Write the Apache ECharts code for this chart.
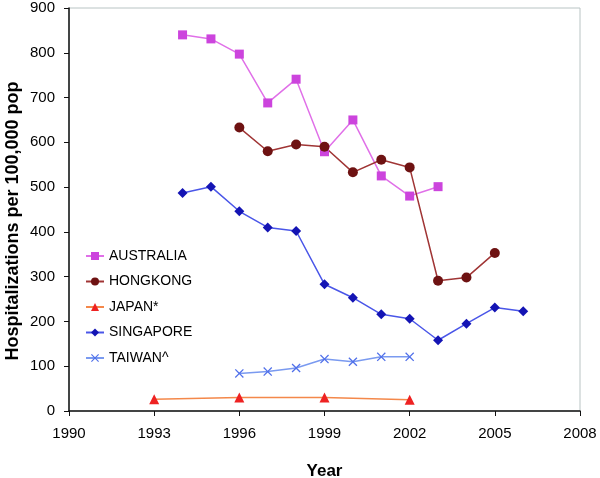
<!DOCTYPE html>
<html>
<head>
<meta charset="utf-8">
<script src="https://cdn.jsdelivr.net/npm/echarts@6/dist/echarts.min.js"></script>
<style>html,body{margin:0;padding:0;background:#fff}#c{width:600px;height:478px}</style>
</head>
<body>
<div id="c"></div>
<script>
var years = ['1990','1991','1992','1993','1994','1995','1996','1997','1998','1999','2000','2001','2002','2003','2004','2005','2006','2007','2008'];
var seriesNames = ['AUSTRALIA','HONGKONG','JAPAN*','SINGAPORE','TAIWAN^'];

var australiaYears = ['1994','1995','1996','1997','1998','1999','2000','2001','2002','2003'];
var australiaVals  = [840, 831, 797, 688, 741, 579, 650, 525, 480, 501];

var hongkongYears = ['1996','1997','1998','1999','2000','2001','2002','2003','2004','2005'];
var hongkongVals  = [633, 580, 595, 590, 533, 561, 544, 291, 298, 353];

var japanYears = ['1993','1996','1999','2002'];
var japanVals  = [26, 30, 30, 25];

var singaporeYears = ['1994','1995','1996','1997','1998','1999','2000','2001','2002','2003','2004','2005','2006'];
var singaporeVals  = [487, 501, 446, 410, 402, 283, 253, 216, 206, 158, 195, 231, 223];

var taiwanYears = ['1996','1997','1998','1999','2000','2001','2002'];
var taiwanVals  = [84, 88, 96, 116, 110, 121, 121];

var yTitle = 'Hospitalizations per 100,000 pop';
var xTitle = 'Year';

function pairs(ys, vs){ return ys.map(function(y,i){ return [y, vs[i]]; }); }

var crossPath = 'path://M0,1 L1,0 L5,4 L9,0 L10,1 L6,5 L10,9 L9,10 L5,6 L1,10 L0,9 L4,5 Z';
var font = '"Liberation Sans", Arial, sans-serif';

function mk(name, data, lineColor, markColor, symbol, size){
  return {
    name: name, type: 'line', data: data, symbol: symbol, symbolSize: size,
    lineStyle: {color: lineColor, width: 1.5},
    itemStyle: {color: markColor, borderWidth: 0},
    emphasis: {disabled: true},
    z: 3
  };
}

var chart = echarts.init(document.getElementById('c'), null, {renderer: 'canvas'});
chart.setOption({
  animation: false,
  backgroundColor: '#ffffff',
  textStyle: {fontFamily: font},
  grid: {left: 69, right: 20, top: 8, bottom: 67, show: true, borderColor: '#b9c4c4', borderWidth: 1,
         containLabel: false, outerBoundsMode: 'none'},
  legend: {
    orient: 'vertical', left: 80, top: 244, itemWidth: 18, itemHeight: 10, itemGap: 11.5,
    data: seriesNames,
    textStyle: {fontSize: 14, color: '#000', fontFamily: font}
  },
  graphic: [{
    type: 'text', x: 13, y: 221, rotation: Math.PI / 2,
    style: {text: yTitle, font: 'bold 18px ' + font, fill: '#000', align: 'center', verticalAlign: 'middle'}
  }],
  xAxis: {
    type: 'category', data: years, boundaryGap: false,
    name: xTitle, nameLocation: 'middle', nameGap: 52,
    nameTextStyle: {fontSize: 17, fontWeight: 'bold', color: '#000', fontFamily: font},
    axisLine: {lineStyle: {color: '#111', width: 1.5}},
    axisTick: {interval: 2, length: 5, lineStyle: {color: '#111'}},
    axisLabel: {interval: 2, fontSize: 15, color: '#000', margin: 15, fontFamily: font},
    splitLine: {show: false}
  },
  yAxis: {
    type: 'value', min: 0, max: 900, interval: 100,
    axisLine: {show: true, lineStyle: {color: '#111', width: 1.5}},
    axisTick: {show: true, length: 5, lineStyle: {color: '#111'}},
    axisLabel: {fontSize: 15, color: '#000', margin: 14, fontFamily: font},
    splitLine: {show: false}
  },
  series: [
    mk('AUSTRALIA', pairs(australiaYears, australiaVals), '#e070e8', '#cc44dd', 'rect', 9),
    mk('HONGKONG', pairs(hongkongYears, hongkongVals), '#a03535', '#6e1212', 'circle', 10),
    mk('JAPAN*', pairs(japanYears, japanVals), '#f4884a', '#ee2222', 'triangle', 10),
    mk('SINGAPORE', pairs(singaporeYears, singaporeVals), '#4a56e8', '#1414b4', 'diamond', 10),
    mk('TAIWAN^', pairs(taiwanYears, taiwanVals), '#7a9af0', '#5070ea', crossPath, 9)
  ]
});
</script>
</body>
</html>
